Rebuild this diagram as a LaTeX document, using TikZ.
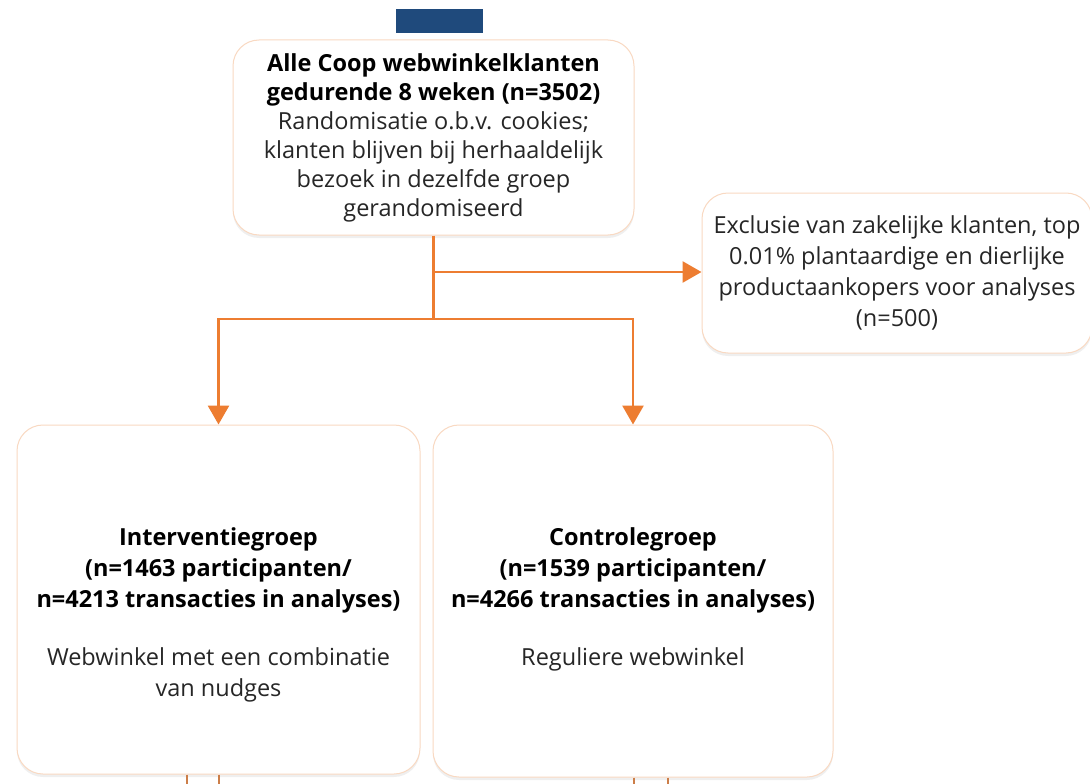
\documentclass[tikz,border=0pt]{standalone}
\usepackage{fontspec}
\setmainfont{Open Sans}
\usetikzlibrary{arrows.meta,shadows}
\definecolor{corange}{HTML}{ED7D31}
\definecolor{cborder}{HTML}{F9D9C2}
\definecolor{cblue}{HTML}{1F4A7C}
\definecolor{ctext}{HTML}{262626}
\newcommand{\hd}[1]{\textbf{\color{black}#1}}
\tikzset{
  box/.style={draw=cborder, line width=1pt, fill=white, rounded corners=26pt,
    align=center, inner sep=0pt, text=ctext,
    drop shadow={opacity=0.12, shadow xshift=0pt, shadow yshift=-3pt}},
  txt/.style={align=center, text=ctext, inner sep=0pt},
  conn/.style={draw=corange, line width=2.8pt},
  arr/.style={conn, -{Triangle[length=19pt,width=21pt]}},
  stub/.style={draw=corange!70!gray, line width=2pt},
}
\begin{document}
\begin{tikzpicture}[x=1pt,y=-1pt]
\useasboundingbox (0,0) rectangle (1090,784);
\fill[white] (0,0) rectangle (1090,784);
\node[fill=cblue, minimum width=87pt, minimum height=24pt, inner sep=0pt] (banner) at (439.5,21) {};
\node[box, minimum width=401pt, minimum height=195pt, font=\fontsize{23.5}{29}\selectfont] (top) at (433.5,137.5)
  {\hd{Alle Coop webwinkelklanten}\\
   \hd{gedurende 8 weken (n=3502)}\\
   Randomisatie o.b.v. cookies;\\
   klanten blijven bij herhaaldelijk\\
   bezoek in dezelfde groep\\
   gerandomiseerd};
\node[box, minimum width=390pt, minimum height=160pt, font=\fontsize{23.5}{31}\selectfont] (excl) at (897,273)
  {Exclusie van zakelijke klanten, top\\
   0.01\% plantaardige en dierlijke\\
   productaankopers voor analyses\\
   (n=500)};
\node[box, minimum width=403pt, minimum height=349pt] (lbox) at (218.5,599.5) {};
\node[txt, font=\fontsize{23.5}{31}\selectfont] (ltext) at (218.5,615)
  {\hd{Interventiegroep}\\
   \hd{(n=1463 participanten/}\\
   \hd{n=4213 transacties in analyses)}\\[27pt]
   Webwinkel met een combinatie\\
   van nudges};
\node[box, minimum width=400pt, minimum height=352pt] (rbox) at (633,601) {};
\node[txt, font=\fontsize{23.5}{31}\selectfont] (rtext) at (633,599)
  {\hd{Controlegroep}\\
   \hd{(n=1539 participanten/}\\
   \hd{n=4266 transacties in analyses)}\\[27pt]
   Reguliere webwinkel};
\coordinate (j1) at (433.5,272);
\coordinate (j2) at (433.5,319);
\draw[conn] (top.south) -- (j2);
\draw[arr] (j1) -- (j1 -| excl.west);
\draw[arr] (j2) -| (lbox.north);
\draw[arr] (j2) -| (rbox.north);
\coordinate (la) at (187,790);
\coordinate (lb) at (218.5,790);
\coordinate (ra) at (634,790);
\coordinate (rb) at (668,790);
\draw[stub] (la |- lbox.south) -- (la);
\draw[stub] (lb |- lbox.south) -- (lb);
\draw[stub] (ra |- rbox.south) -- (ra);
\draw[stub] (rb |- rbox.south) -- (rb);
\end{tikzpicture}
\end{document}
